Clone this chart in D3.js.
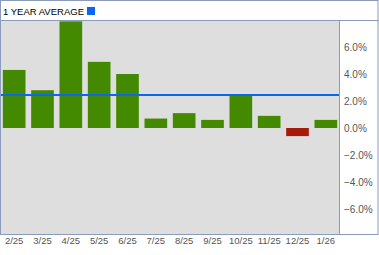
<!DOCTYPE html>
<html><head><meta charset="utf-8">
<script src="https://cdn.jsdelivr.net/npm/d3@7"></script>
<style>body{margin:0;background:#fff}svg{display:block}</style>
</head><body><svg id="c" width="379" height="255"></svg>
<script>
const categories = ["2/25","3/25","4/25","5/25","6/25","7/25","8/25","9/25","10/25","11/25","12/25","1/26"];
const values = [4.3, 2.8, 7.9, 4.9, 4.0, 0.7, 1.1, 0.6, 2.4, 0.9, -0.6, 0.6];
const average = 2.45;
const yTicks = [6, 4, 2, 0, -2, -4, -6];
const legendLabel = "1 YEAR AVERAGE";

const svg = d3.select("#c");
const plotL = 0.5, plotR = 339.5, plotT = 20.5, plotB = 234.5;
const font = "'Liberation Sans', Arial, sans-serif";
const border = "#8a9bbb";

const x = d3.scaleBand().domain(categories).range([0, 340]).paddingInner(0.2).paddingOuter(0.1);
const y = d3.scaleLinear().domain([-8, 8]).range([236, 20]);

svg.append("rect").attr("x", plotL).attr("y", plotT).attr("width", plotR - plotL).attr("height", plotB - plotT).attr("fill", "#dedede");

svg.selectAll("rect.bar").data(values).enter().append("rect").attr("class", "bar")
  .attr("x", (d, i) => x(categories[i]))
  .attr("width", x.bandwidth())
  .attr("y", d => y(Math.max(0, d)))
  .attr("height", d => Math.abs(y(d) - y(0)))
  .attr("fill", d => d < 0 ? "#a61a0a" : "#448a00");

svg.append("line").attr("x1", plotL).attr("x2", plotR).attr("y1", y(average)).attr("y2", y(average))
  .attr("stroke", "#0a66f5").attr("stroke-width", 2);

svg.append("rect").attr("x", 0.5).attr("y", 0.5).attr("width", 377.5).attr("height", plotB - 0.5)
  .attr("fill", "none").attr("stroke", border);
svg.append("line").attr("x1", 0).attr("x2", 378.5).attr("y1", plotT).attr("y2", plotT).attr("stroke", border);
svg.append("line").attr("x1", plotR).attr("x2", plotR).attr("y1", plotT).attr("y2", plotB).attr("stroke", border);

svg.append("text").attr("x", 3).attr("y", 15).attr("font-family", font).attr("font-size", 9.5)
  .attr("fill", "#000").text(legendLabel);
svg.append("rect").attr("x", 87).attr("y", 7).attr("width", 8).attr("height", 8).attr("fill", "#0a66f5");

const yAxis = d3.axisRight(y).tickValues(yTicks).tickSize(0).tickPadding(0)
  .tickFormat(d => d3.format(".1f")(d) + "%");
const gy = svg.append("g").attr("transform", "translate(344,0)").call(yAxis);
gy.select(".domain").remove();
gy.selectAll("text").attr("font-family", font).attr("font-size", 10).attr("fill", "#555");

const xAxis = d3.axisBottom(x).tickSize(0).tickPadding(0);
const gx = svg.append("g").attr("transform", "translate(0,237)").call(xAxis);
gx.select(".domain").remove();
gx.selectAll("text").attr("font-family", font).attr("font-size", 9.5).attr("fill", "#555");
</script></body></html>
